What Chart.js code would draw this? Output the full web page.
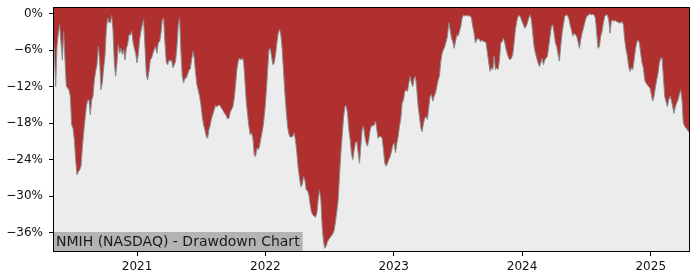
<!DOCTYPE html>
<html>
<head>
<meta charset="utf-8">
<script src="https://cdn.jsdelivr.net/npm/chart.js@4/dist/chart.umd.min.js"></script>
<style>
  html, body { margin: 0; padding: 0; background: #fff; }
  #wrap { width: 700px; height: 280px; }
</style>
</head>
<body>
<div id="wrap"><canvas id="ddChart" width="700" height="280"></canvas></div>
<script>
// drawdown in %, sampled every ~3.79 days starting 2020-05-07
const firstDate = '2020-05-07';
const stepDays = 3.79;
const drawdown = [
  -4.0, -5.9, -12.0, -5.4, -3.2, -1.8, -4.8, -7.6, -2.9, -7.6,
  -12.0, -12.2, -12.6, -13.6, -18.3, -18.8, -20.7, -24.0, -26.5, -26.0,
  -25.7, -25.1, -22.1, -19.6, -17.4, -15.3, -14.2, -14.2, -16.6, -14.2,
  -13.6, -10.9, -9.5, -8.4, -5.4, -7.6, -12.5, -11.4, -8.9, -7.0,
  -2.6, -0.7, -1.4, -1.5, -0.3, -2.6, -8.1, -10.3, -8.1, -5.1,
  -6.5, -5.7, -6.7, -5.9, -7.6, -5.7, -5.1, -3.5, -3.5, -2.9,
  -4.6, -5.7, -6.5, -8.1, -6.7, -4.3, -2.9, -1.8, -1.0, -5.4,
  -10.0, -10.9, -9.5, -7.6, -7.3, -6.5, -5.9, -5.4, -6.5, -4.8,
  -4.6, -3.2, -1.0, -0.7, -4.8, -8.0, -8.4, -7.6, -7.8, -7.6,
  -8.9, -8.4, -7.8, -5.4, -1.8, -0.7, -6.2, -10.3, -11.4, -10.6,
  -10.6, -10.0, -9.3, -9.1, -7.6, -6.2, -7.3, -9.8, -11.7, -12.6,
  -13.6, -15.0, -16.9, -18.3, -19.1, -20.2, -20.5, -19.1, -18.3, -17.2,
  -16.5, -15.8, -15.1, -15.3, -15.1, -15.0, -15.4, -15.7, -16.1, -16.5,
  -16.8, -17.3, -17.2, -16.2, -15.7, -15.3, -13.9, -11.7, -9.2, -7.8,
  -7.3, -7.6, -7.3, -7.8, -10.9, -14.4, -16.6, -18.5, -19.9, -19.6,
  -20.5, -23.2, -23.5, -22.1, -22.4, -21.8, -20.5, -19.4, -18.0, -15.8,
  -13.0, -9.5, -6.0, -5.7, -7.0, -8.4, -8.1, -6.7, -4.8, -3.2,
  -2.6, -3.5, -5.9, -9.5, -13.0, -16.0, -18.5, -19.8, -20.3, -20.3,
  -20.1, -19.6, -20.9, -22.9, -25.4, -27.0, -28.5, -28.1, -26.8, -27.3,
  -29.0, -29.1, -29.8, -31.4, -32.7, -33.1, -33.3, -33.5, -32.8, -30.6,
  -29.0, -30.6, -35.0, -37.5, -38.6, -38.2, -37.5, -37.1, -36.8, -36.5,
  -36.2, -35.6, -34.2, -32.5, -30.6, -26.5, -23.0, -20.0, -17.2, -15.3,
  -15.1, -16.4, -19.1,
  -20.7, -23.2, -24.0, -22.4, -21.2, -21.0, -22.9, -24.6, -21.8, -19.1,
  -18.5, -20.2, -21.3, -21.8, -20.7, -19.1, -18.4, -18.5, -18.3, -17.7,
  -19.1, -20.5, -20.2, -20.2, -20.5, -22.4, -24.6, -25.1, -24.6, -24.0,
  -23.5, -22.7, -21.6, -21.3, -22.9, -21.3, -20.2, -18.5, -17.2, -14.7,
  -14.2, -12.8, -12.5, -12.8, -11.4, -10.3, -11.4, -12.0, -10.6, -10.3,
  -12.5, -15.3, -16.9, -18.8, -19.4, -18.0, -17.2, -16.9, -17.4, -15.3,
  -13.6, -13.3, -14.4, -13.6, -13.1, -12.0, -10.9, -10.3, -7.8, -6.5,
  -5.9, -5.4, -4.6, -3.7, -1.5, -2.6, -4.0, -4.6, -5.7, -4.6,
  -3.5, -3.7, -2.9, -2.1, -0.7, -0.2, -0.4, -0.2, -0.4, -0.3,
  -0.4, -0.7, -2.1, -3.2, -4.8, -4.3, -4.0, -4.3, -4.6, -4.3,
  -4.6, -4.6, -4.8, -6.5, -8.1, -9.5, -8.9, -9.2, -7.0, -9.2,
  -8.9, -9.2, -7.6, -4.8, -4.6, -4.0, -4.8, -5.9, -6.7, -7.3,
  -7.6, -7.3, -6.7, -4.8, -2.6, -1.3, -0.4, -0.3, -0.7, -1.3,
  -1.8, -2.4, -2.1, -1.5, -0.7, -0.2, -1.0, -3.2, -5.4, -6.5,
  -7.3, -8.1, -8.7, -8.1, -7.3, -8.4, -7.6, -7.3, -7.0, -5.4,
  -3.7, -2.1, -1.8, -3.2, -4.8, -5.4, -6.7, -7.8, -5.4, -3.2,
  -1.8, -0.4, -0.2, -0.3, -0.7, -1.8, -2.6, -3.7, -3.2, -3.5,
  -3.7, -4.6, -5.7, -4.3, -3.2, -2.4, -1.5, -0.7, -0.3, -0.2,
  0, -0.2, -0.1, -0.2, -0.7, -3.2, -5.7, -5.4, -3.7, -2.9,
  -1.5, -0.4, -0.2, -0.2, -1.0, -3.2, -1.3, -1.0, -1.3, -1.1,
  -1.3, -1.4, -1.5, -1.5, -1.3, -1.8, -4.3, -5.9, -7.0, -8.7,
  -9.5, -8.9, -9.2, -7.8, -5.9, -4.8, -4.3, -4.8, -6.5, -8.1,
  -8.9, -10.9, -11.4, -11.7, -12.0, -12.2, -13.3, -14.4, -13.6, -12.2,
  -10.9, -9.8, -8.1, -7.3, -7.3, -10.3, -13.6, -14.4, -15.3, -14.2,
  -13.6, -14.2, -15.3, -16.4, -15.3, -14.7, -14.2, -13.3, -12.5, -14.2,
  -18.0, -18.5, -18.8, -19.1, -19.4, -19.4
];
const tickYears = [2021, 2022, 2023, 2024, 2025];
const yTicks = [0, -6, -12, -18, -24, -30, -36];
const chartTitle = 'NMIH (NASDAQ) - Drawdown Chart';

const dayMs = 86400000;
const t0 = Date.parse(firstDate);
const points = drawdown.map((v, i) => ({ x: t0 + i * stepDays * dayMs, y: v }));

Chart.defaults.font.family = 'DejaVu Sans';
Chart.defaults.color = '#111';

// plot background, title box and frame
const decor = {
  id: 'decor',
  beforeDatasetsDraw(chart) {
    const a = chart.chartArea, c = chart.ctx;
    c.save();
    c.fillStyle = '#ececec';
    c.fillRect(a.left, a.top, a.right - a.left, a.bottom - a.top);
    c.restore();
  },
  afterDatasetsDraw(chart) {
    const a = chart.chartArea, c = chart.ctx;
    c.save();
    c.font = '14px "DejaVu Sans"';
    const w = c.measureText(chartTitle).width;
    c.fillStyle = '#b3b3b3';
    c.fillRect(a.left, a.bottom - 20, w + 6, 20);
    c.fillStyle = '#1a1a1a';
    c.textBaseline = 'middle';
    c.fillText(chartTitle, a.left + 3, a.bottom - 10);
    c.strokeStyle = '#000';
    c.lineWidth = 1;
    c.strokeRect(a.left + 0.5, a.top + 0.5, a.right - a.left - 1, a.bottom - a.top - 1);
    c.restore();
  }
};

new Chart(document.getElementById('ddChart').getContext('2d'), {
  type: 'line',
  data: {
    datasets: [{
      data: points,
      borderColor: '#8a8a8a',
      borderWidth: 1,
      backgroundColor: '#b03030',
      fill: 'end',
      pointRadius: 0,
      tension: 0
    }]
  },
  options: {
    responsive: false,
    animation: false,
    layout: { padding: { top: 7, right: 10, left: 0, bottom: 0 } },
    plugins: { legend: { display: false }, tooltip: { enabled: false } },
    scales: {
      x: {
        type: 'linear',
        min: points[0].x,
        max: points[points.length - 1].x,
        afterBuildTicks: s => { s.ticks = tickYears.map(y => ({ value: Date.UTC(y, 0, 1) })); },
        afterFit: s => { s.height = 28; s.paddingLeft = 0; s.paddingRight = 0; },
        border: { display: false },
        grid: { drawOnChartArea: false, drawTicks: true, tickLength: 4, color: '#000' },
        ticks: {
          font: { size: 12 },
          padding: 4,
          maxRotation: 0,
          callback: v => String(new Date(v).getUTCFullYear())
        }
      },
      y: {
        min: -39.2,
        max: 1.1,
        afterBuildTicks: s => { s.ticks = yTicks.map(v => ({ value: v })); },
        afterFit: s => { s.width = 53; s.paddingTop = 0; s.paddingBottom = 0; },
        border: { display: false },
        grid: { drawOnChartArea: false, drawTicks: true, tickLength: 4, color: '#000' },
        ticks: {
          font: { size: 12 },
          padding: 6,
          callback: v => (v < 0 ? '\u2212' + Math.abs(v) : v) + '%'
        }
      }
    }
  },
  plugins: [decor]
});
</script>
</body>
</html>
